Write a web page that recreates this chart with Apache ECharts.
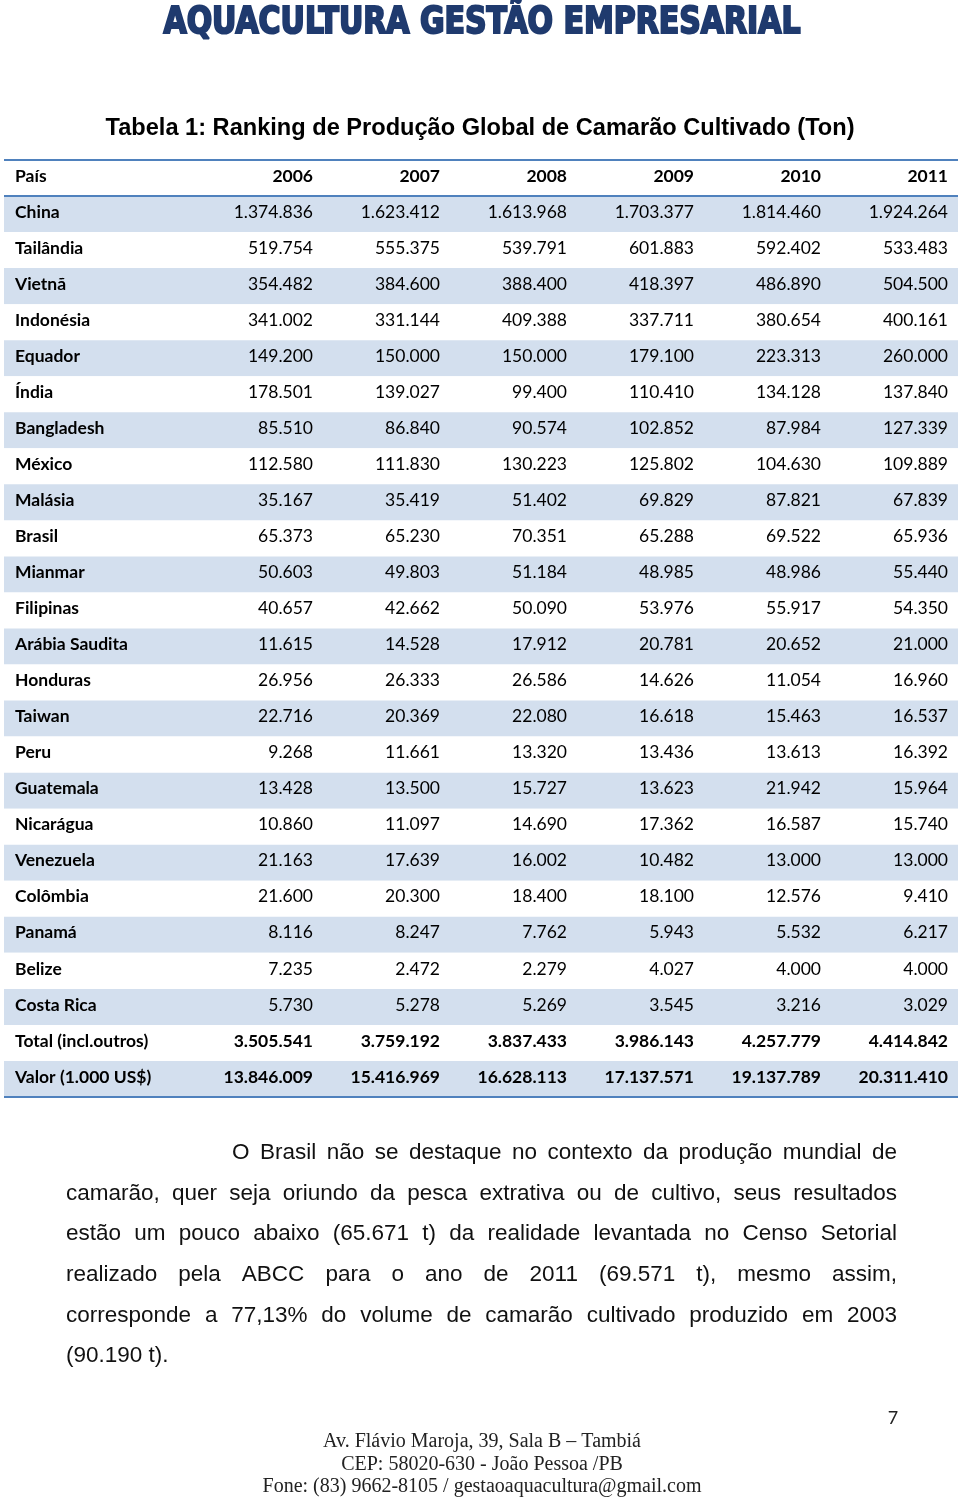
<!DOCTYPE html>
<html><head><meta charset="utf-8">
<script src="https://cdn.jsdelivr.net/npm/echarts@6/dist/echarts.min.js"></script>
<style>html,body{margin:0;padding:0;background:#fff}#c{width:960px;height:1498px}</style>
</head><body><div id="c"></div>
<script>
const brandTitle = 'AQUACULTURA GESTÃO EMPRESARIAL';
const tableTitle = 'Tabela 1: Ranking de Produção Global de Camarão Cultivado (Ton)';
const headerLabel = 'País';
const years = ['2006', '2007', '2008', '2009', '2010', '2011'];
const countries = ['China', 'Tailândia', 'Vietnã', 'Indonésia', 'Equador', 'Índia', 'Bangladesh', 'México', 'Malásia', 'Brasil', 'Mianmar', 'Filipinas', 'Arábia Saudita', 'Honduras', 'Taiwan', 'Peru', 'Guatemala', 'Nicarágua', 'Venezuela', 'Colômbia', 'Panamá', 'Belize', 'Costa Rica'];
const summaryRows = ['Total (incl.outros)', 'Valor (1.000 US$)'];
const v2006 = [1374836, 519754, 354482, 341002, 149200, 178501, 85510, 112580, 35167, 65373, 50603, 40657, 11615, 26956, 22716, 9268, 13428, 10860, 21163, 21600, 8116, 7235, 5730, 3505541, 13846009];
const v2007 = [1623412, 555375, 384600, 331144, 150000, 139027, 86840, 111830, 35419, 65230, 49803, 42662, 14528, 26333, 20369, 11661, 13500, 11097, 17639, 20300, 8247, 2472, 5278, 3759192, 15416969];
const v2008 = [1613968, 539791, 388400, 409388, 150000, 99400, 90574, 130223, 51402, 70351, 51184, 50090, 17912, 26586, 22080, 13320, 15727, 14690, 16002, 18400, 7762, 2279, 5269, 3837433, 16628113];
const v2009 = [1703377, 601883, 418397, 337711, 179100, 110410, 102852, 125802, 69829, 65288, 48985, 53976, 20781, 14626, 16618, 13436, 13623, 17362, 10482, 18100, 5943, 4027, 3545, 3986143, 17137571];
const v2010 = [1814460, 592402, 486890, 380654, 223313, 134128, 87984, 104630, 87821, 69522, 48986, 55917, 20652, 11054, 15463, 13613, 21942, 16587, 13000, 12576, 5532, 4000, 3216, 4257779, 19137789];
const v2011 = [1924264, 533483, 504500, 400161, 260000, 137840, 127339, 109889, 67839, 65936, 55440, 54350, 21000, 16960, 16537, 16392, 15964, 15740, 13000, 9410, 6217, 4000, 3029, 4414842, 20311410];
const paragraphLines = [
  'O Brasil não se destaque no contexto da produção mundial de',
  'camarão, quer seja oriundo da pesca extrativa ou de cultivo, seus resultados',
  'estão um pouco abaixo (65.671 t) da realidade levantada no Censo Setorial',
  'realizado pela ABCC para o ano de 2011 (69.571 t), mesmo assim,',
  'corresponde a 77,13% do volume de camarão cultivado produzido em 2003',
  '(90.190 t).'
];
const footerLines = ['Av. Flávio Maroja, 39, Sala B – Tambiá', 'CEP: 58020-630 - João Pessoa /PB', 'Fone: (83) 9662-8105 / gestaoaquacultura@gmail.com'];
const pageNumber = '7';

const rowLabels = [headerLabel].concat(countries, summaryRows);
const yearCols = [v2006, v2007, v2008, v2009, v2010, v2011];
const fmt = n => String(n).replace(/\B(?=(\d{3})+(?!\d))/g, '.');

const cells = [];
yearCols.forEach((col, j) => {
  cells.push([j, 0, 0]);
  col.forEach((v, i) => cells.push([j, i + 1, v]));
});
const rowIdx = rowLabels.map((_, i) => [0, i]);
const rules = [0, 1, rowLabels.length];

const TFONT = 'Lato';
const TSIZE = 17.5;
const DY = -2;
const BLUE = '#4f81bd';
const isBoldRow = row => row === 0 || row >= rowLabels.length - 2;

// paragraph layout (justified) via text measurement
const ctx = document.createElement('canvas').getContext('2d');
const PFONT = '22.5px "Liberation Sans", Arial';
ctx.font = PFONT;
const graphics = [];
const pLeft = 66, pRight = 897, pIndent = 232, pTop = 1153, pStep = 40.6;
const tStyle = (text, font, fill, align) => ({text: text, font: font, fill: fill, align: align, verticalAlign: 'middle', textAlign: align, textVerticalAlign: 'middle'});
paragraphLines.forEach((line, li) => {
  const x0 = li === 0 ? pIndent : pLeft;
  const y = pTop + li * pStep;
  const justify = li < paragraphLines.length - 1;
  if (!justify) {
    graphics.push({type: 'text', x: x0, y: y, style: tStyle(line, PFONT, '#111', 'left')});
    return;
  }
  const words = line.split(' ');
  const widths = words.map(w => ctx.measureText(w).width);
  const total = widths.reduce((a, b) => a + b, 0);
  const gap = (pRight - x0 - total) / (words.length - 1);
  let x = x0;
  words.forEach((w, k) => {
    graphics.push({type: 'text', x: x, y: y, style: tStyle(w, PFONT, '#111', 'left')});
    x += widths[k] + gap;
  });
});
footerLines.forEach((line, i) => {
  graphics.push({type: 'text', x: 482, y: 1442 + i * 22.5, style: tStyle(line, '20px "Liberation Serif", "Times New Roman", serif', '#222', 'center')});
});
graphics.push({type: 'text', x: 893, y: 1418, style: tStyle(pageNumber, '18px ' + TFONT, '#222', 'center')});
const brand = tStyle(brandTitle, 'bold 37px "DejaVu Sans Condensed", "DejaVu Sans"', '#1f3a6e', 'center');
brand.stroke = '#1f3a6e'; brand.lineWidth = 2;
graphics.push({type: 'text', x: 482, y: 23, scaleX: 0.9, style: brand});

const chart = echarts.init(document.getElementById('c'));
chart.setOption({
  animation: false,
  backgroundColor: '#fff',
  title: {
    text: tableTitle, left: 'center', top: 111,
    textStyle: {fontFamily: '"Liberation Sans", Arial', fontSize: 23.6, fontWeight: 'bold', color: '#000'}
  },
  graphic: graphics,
  grid: [
    {left: 4, right: 2, top: 160, height: 937},
    {left: 186, right: 12, top: 160, height: 937}
  ],
  xAxis: [
    {gridIndex: 0, type: 'value', min: 0, max: 1, show: false},
    {gridIndex: 1, type: 'category', data: years, show: false}
  ],
  yAxis: [
    {gridIndex: 0, type: 'category', data: rowLabels, inverse: true,
      axisLine: {show: false}, axisTick: {show: false}, axisLabel: {show: false},
      splitArea: {show: true, areaStyle: {color: ['#ffffff', '#d3dfee']}}},
    {gridIndex: 1, type: 'category', data: rowLabels, inverse: true, show: false}
  ],
  series: [
    {
      type: 'custom', xAxisIndex: 0, yAxisIndex: 0, silent: true, data: rules,
      renderItem: function (params, api) {
        const b = api.value(0);
        const n = rowLabels.length;
        const c0 = api.coord([0, Math.min(b, n - 1)]);
        const c1 = api.coord([1, Math.min(b, n - 1)]);
        const h = api.size([0, 1])[1];
        const y = b >= n ? c0[1] + h / 2 : c0[1] - h / 2;
        return {type: 'line', shape: {x1: c0[0], y1: y, x2: c1[0], y2: y}, style: {stroke: BLUE, lineWidth: 2}};
      }
    },
    {
      type: 'custom', xAxisIndex: 0, yAxisIndex: 0, silent: true, data: rowIdx,
      renderItem: function (params, api) {
        const row = api.value(1);
        const c = api.coord([0, row]);
        return {type: 'text', style: {text: rowLabels[row], x: c[0] + 11, y: c[1] + DY,
          align: 'left', verticalAlign: 'middle', textAlign: 'left', textVerticalAlign: 'middle',
          font: 'bold ' + TSIZE + 'px ' + TFONT, fill: '#000'}};
      }
    },
    {
      type: 'custom', xAxisIndex: 1, yAxisIndex: 1, silent: true, data: cells,
      renderItem: function (params, api) {
        const col = api.value(0), row = api.value(1);
        const c = api.coord([col, row]);
        const s = api.size([1, 1]);
        const txt = row === 0 ? years[col] : fmt(api.value(2));
        return {type: 'text', style: {text: txt, x: c[0] + s[0] / 2, y: c[1] + DY,
          align: 'right', verticalAlign: 'middle', textAlign: 'right', textVerticalAlign: 'middle',
          font: (isBoldRow(row) ? 'bold ' : '') + TSIZE + 'px ' + TFONT, fill: '#000'}};
      }
    }
  ]
});
</script></body></html>
